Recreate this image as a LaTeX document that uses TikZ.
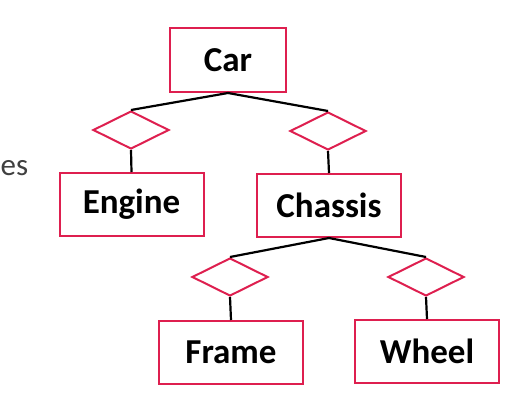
\documentclass[tikz,border=0pt]{standalone}
\usepackage{fontspec}
\setmainfont{Carlito}
\usepackage{tikz}
\usetikzlibrary{arrows,shapes}
\definecolor{entityred}{HTML}{DE1F4F}
\definecolor{textgray}{HTML}{404040}
\tikzstyle{entity}=[rectangle, draw=entityred
,line width=2pt
,minimum width=144pt
,minimum height=63pt
,inner sep=0pt
,font=\fontsize{35}{42}\selectfont\bfseries
]
\tikzstyle{relation}=[diamond, draw=entityred
,line width=2pt
,shape aspect=2
,minimum width=76pt
,minimum height=38pt
,inner sep=0pt
]
\tikzstyle{edge} = [draw,line width=2.2pt,-]

\begin{document}
\begin{tikzpicture}[x=1pt,y=-1pt]
    \useasboundingbox (0,0) rectangle (522,415);
    % Draw the part-of tree
    % First we draw the entities
    \node[entity, minimum width=116pt, minimum height=64pt] (Car) at (228,60) {Car};
    \foreach \pos/\name in {{(131.5,204.5)/Engine}, {(329,205.5)/Chassis}, {(231,352.5)/Frame}, {(427,351.5)/Wheel}}
        \node[entity] (\name) at \pos {\name};

    % then the diamonds between them
    \foreach \pos/\name in {{(131,130)/R_1}, {(328,131)/R_2}, {(230,277)/R_3}, {(426,277)/R_4}}
        \node[relation] (\name) at \pos {};

    \node[anchor=base west, inner sep=0pt, text=textgray, font=\fontsize{31}{37}\selectfont] (es) at (0.5,175) {es};

    % Connect parents and children through the diamonds
    \foreach \source/ \dest in {Car/R_1, Car/R_2, Chassis/R_3, Chassis/R_4}
        \path[edge] (\source.south) -- (\dest.north) ;
    \foreach \source/ \dest in {R_1/Engine, R_2/Chassis, R_3/Frame, R_4/Wheel}
        \path[edge] (\source.south) -- (\dest.north) ;

\end{tikzpicture}
\end{document}
